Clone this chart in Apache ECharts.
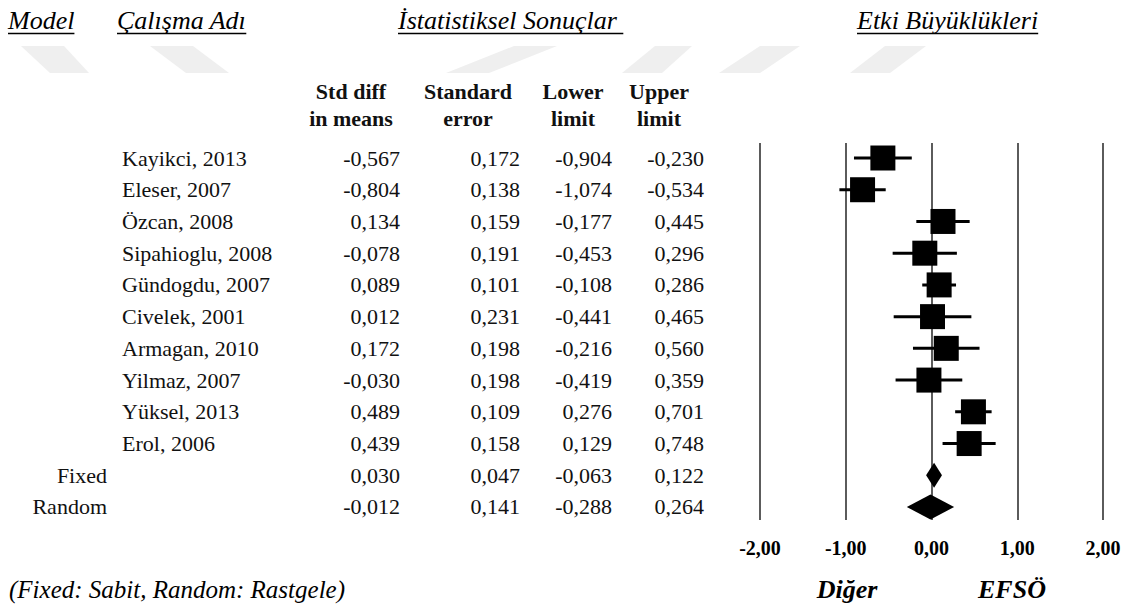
<!DOCTYPE html>
<html><head><meta charset="utf-8">
<script src="https://cdn.jsdelivr.net/npm/echarts@6/dist/echarts.min.js"></script>
<style>html,body{margin:0;padding:0;background:#fff}#c{width:1129px;height:605px}</style>
</head><body><div id="c"></div>
<script>
// ---- data ----
const studies = ['Kayikci, 2013','Eleser, 2007','Özcan, 2008','Sipahioglu, 2008','Gündogdu, 2007','Civelek, 2001','Armagan, 2010','Yilmaz, 2007','Yüksel, 2013','Erol, 2006'];
const models = ['Fixed','Random'];
const stdDiff = [-0.567,-0.804,0.134,-0.078,0.089,0.012,0.172,-0.030,0.489,0.439,0.030,-0.012];
const stdErr = [0.172,0.138,0.159,0.191,0.101,0.231,0.198,0.198,0.109,0.158,0.047,0.141];
const lowerLimit = [-0.904,-1.074,-0.177,-0.453,-0.108,-0.441,-0.216,-0.419,0.276,0.129,-0.063,-0.288];
const upperLimit = [-0.230,-0.534,0.445,0.296,0.286,0.465,0.560,0.359,0.701,0.748,0.122,0.264];
const xTicks = [-2,-1,0,1,2];
const headers = [['Std diff','in means'],['Standard','error'],['Lower','limit'],['Upper','limit']];
const titles = ['Model','Çalışma Adı','İstatistiksel Sonuçlar ','Etki Büyüklükleri'];
const footnote = '(Fixed: Sabit, Random: Rastgele)';
const sideLabels = ['Diğer','EFSÖ'];

// ---- layout ----
const FAM = 'Liberation Serif';
const fmt = v => v.toFixed(3).replace('.', ',');
const colRight = [400, 520, 612, 704];
const headCenter = [351, 468, 573, 659];
const titleX = [8, 117, 398, 857];
const nStudy = studies.length;

const rows = stdDiff.map((d, i) => [i, d, lowerLimit[i], upperLimit[i], stdErr[i]]);

const meas = document.createElement('canvas').getContext('2d');
function textW(t, font) { meas.font = font; return meas.measureText(t).width; }

function txt(t, x, y, size, opts) {
  opts = opts || {};
  const st = opts.italic ? 'italic' : 'normal';
  const wt = opts.bold ? 'bold' : 'normal';
  return {text:t, x:x, y:y, font: st + ' ' + wt + ' ' + size + 'px ' + FAM,
    fontFamily:FAM, fontSize:size, fontStyle:st, fontWeight:wt,
    fill:opts.fill || '#000', align:opts.align || 'left', textAlign:opts.align || 'left',
    verticalAlign:'middle', textVerticalAlign:'middle'};
}

const graphic = [];
// faint watermark shapes
const wm = [
  [[21,46],[64,46],[89,73],[50,73]],
  [[150,46],[193,46],[229,73],[186,73]],
  [[514,46],[557,46],[489,73],[446,73]],
  [[655,46],[692,46],[662,73],[622,73]],
  [[760,46],[800,46],[760,73],[719,73]],
  [[885,46],[926,46],[890,73],[850,73]]
];
wm.forEach(p => graphic.push({type:'polygon', z:-10, shape:{points:p}, style:{fill:'#efefef'}, silent:true}));
// titles
titles.forEach((t, i) => {
  graphic.push({type:'text', style:txt(t, titleX[i], 20, 26, {italic:true})});
  const w = textW(t, 'italic 26px "Liberation Serif"');
  graphic.push({type:'line', shape:{x1:titleX[i], y1:33.5, x2:titleX[i]+w, y2:33.5}, style:{stroke:'#000', lineWidth:1.5}});
});
// table headers
headers.forEach((h, i) => {
  h.forEach((t, j) => {
    graphic.push({type:'text', style:txt(t, headCenter[i], 91 + j*27, 22, {bold:true, align:'center', fill:'#111'})});
  });
});
// footnote and side labels
graphic.push({type:'text', style:txt(footnote, 9, 589, 25, {italic:true})});
graphic.push({type:'text', style:txt(sideLabels[0], 847, 589, 26, {italic:true, bold:true, align:'center'})});
graphic.push({type:'text', style:txt(sideLabels[1], 1012, 589, 26, {italic:true, bold:true, align:'center'})});

function renderItem(params, api) {
  const i = api.value(0);
  const pE = api.coord([api.value(1), i]);
  const pL = api.coord([api.value(2), i]);
  const pH = api.coord([api.value(3), i]);
  const y = pE[1];
  const ch = [];
  if (i < nStudy) {
    ch.push({type:'line', shape:{x1:pL[0], y1:y, x2:pH[0], y2:y}, style:{stroke:'#000', lineWidth:3}});
    ch.push({type:'rect', shape:{x:pE[0]-12.5, y:y-12.5, width:25, height:25}, style:{fill:'#000'}});
    ch.push({type:'text', style:txt(studies[i], 122, y, 22, {fill:'#111'})});
  } else {
    const h = 12.5;
    ch.push({type:'polygon', shape:{points:[[pL[0],y],[pE[0],y-h],[pH[0],y],[pE[0],y+h]]}, style:{fill:'#000'}});
    ch.push({type:'text', style:txt(models[i-nStudy], 107, y, 22, {fill:'#111', align:'right'})});
  }
  const vals = [api.value(1), api.value(4), api.value(2), api.value(3)];
  vals.forEach((v, k) => ch.push({type:'text', style:txt(fmt(v), colRight[k], y, 22, {fill:'#111', align:'right'})}));
  return {type:'group', children:ch};
}

const chart = echarts.init(document.getElementById('c'), null, {renderer:'svg'});
chart.setOption({
  animation:false,
  backgroundColor:'#fff',
  textStyle:{fontFamily:FAM},
  graphic: graphic,
  grid:{left:760, width:343, top:143, height:377},
  xAxis:{type:'value', min:xTicks[0], max:xTicks[xTicks.length-1], interval:1,
    axisLine:{show:false}, axisTick:{show:false},
    splitLine:{show:true, lineStyle:{color:'#333', width:1.6}},
    axisLabel:{margin:18, color:'#000', fontFamily:FAM, fontWeight:'bold', fontSize:20,
      formatter: v => v.toFixed(2).replace('.', ',')}},
  yAxis:{type:'value', inverse:true, min:-0.473, max:11.41, show:false},
  series:[{type:'custom', renderItem:renderItem, clip:false, data:rows, encode:{x:[1,2,3], y:0}}]
});
</script></body></html>
